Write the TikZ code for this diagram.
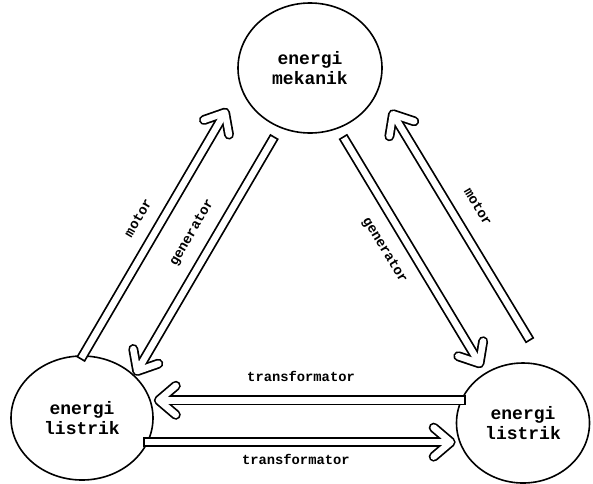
\documentclass[tikz,border=0pt]{standalone}
\usepackage{fontspec}
\newfontfamily\typefont{Liberation Mono}
\usetikzlibrary{arrows.meta,shapes.geometric}
\tikzset{
  blob/.style   ={draw, ellipse, line width=1.6pt, inner sep=0pt, align=center,
                  font=\fontsize{18}{20}\selectfont\typefont\bfseries},
  dblarr/.style ={draw=white, line width=6.5pt, line cap=rect,
                  -{Straight Barb[length=17pt,width=29pt,round,sep=1.75pt]},
                  preaction={draw=black, line width=10pt, line cap=rect,
                  -{Straight Barb[length=17pt,width=29pt,round]}}},
  lbl/.style    ={sloped, inner sep=0pt, font=\fontsize{13.8}{14}\selectfont\typefont\bfseries},
}
\begin{document}
\begin{tikzpicture}[x=1pt,y=-1pt]
  \useasboundingbox (0,0) rectangle (593,483);
  \node[blob, minimum width=144pt, minimum height=130pt] (mek)  at (310,68)  {energi\\mekanik};
  \node[blob, minimum width=142pt, minimum height=124pt] (lisL) at (82,418)  {energi\\listrik};
  \node[blob, minimum width=133pt, minimum height=120pt] (lisR) at (523,423) {energi\\listrik};
  % left side
  \draw[dblarr, shorten >=25pt] (lisL.89) -- (mek.195)
    node[lbl, pos=0.47, above=14pt] {motor};
  \draw[dblarr, shorten <=15pt] (mek.243) -- (lisL.39)
    node[lbl, pos=0.47, above=13pt] {generator};
  % right side
  \draw[dblarr, shorten <=14pt, shorten >=6pt] (mek.295) -- (lisR.127)
    node[lbl, pos=0.45, below=14pt] {generator};
  \draw[dblarr, shorten <=34pt, shorten >=23pt] (lisR.69) -- (mek.342)
    node[lbl, pos=0.53, above=17pt] {motor};
  % bottom
  \draw[dblarr] (lisR.160) -- (lisR.160 -| lisL.east)
    node[lbl, pos=0.52, above=15pt] {transformator};
  \draw[dblarr] (lisL.-20) -- (lisL.-20 -| lisR.west)
    node[lbl, pos=0.48, below=9pt] {transformator};
\end{tikzpicture}
\end{document}
